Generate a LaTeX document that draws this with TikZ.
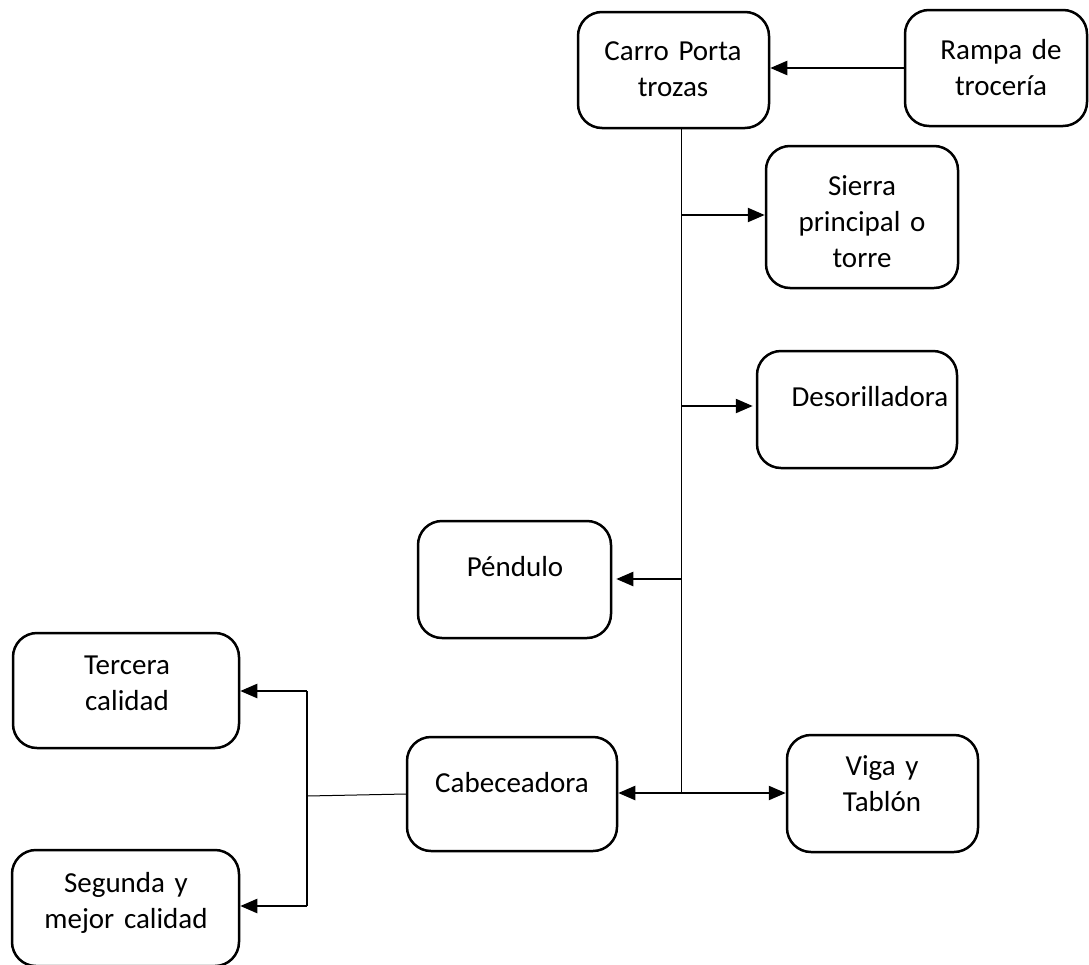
\documentclass[tikz,border=0pt]{standalone}
\usepackage{fontspec}
\setmainfont{Carlito}
\usetikzlibrary{arrows.meta}
\tikzset{
  box/.style={draw=black, line width=2.5pt, rounded corners=24pt, inner sep=0pt},
  txt/.style={font=\fontsize{29}{36}\selectfont, anchor=base, text width=260pt, align=center, inner sep=0pt},
  arr/.style={line width=2.3pt, -{Triangle[length=17pt,width=14pt]}},
  arrr/.style={line width=2.3pt, {Triangle[length=17pt,width=14pt]}-{Triangle[length=17pt,width=14pt]}},
  thin line/.style={line width=1pt},
}
\begin{document}
\begin{tikzpicture}[x=1pt,y=-1pt]
\useasboundingbox (0,0) rectangle (1089,964);
% boxes
\node[box, minimum width=191pt, minimum height=116pt] (carro) at (673.5,70) {};
\node[box, minimum width=182pt, minimum height=116pt] (rampa) at (996,68) {};
\node[box, minimum width=192pt, minimum height=142pt] (sierra) at (862,217) {};
\node[box, minimum width=200pt, minimum height=117pt] (deso) at (857,409.5) {};
\node[box, minimum width=193pt, minimum height=117pt] (pend) at (514.5,579.5) {};
\node[box, minimum width=210pt, minimum height=114pt] (cab) at (512,794) {};
\node[box, minimum width=191pt, minimum height=117pt] (viga) at (882.5,793.5) {};
\node[box, minimum width=226pt, minimum height=115pt] (terc) at (126,690.5) {};
\node[box, minimum width=227pt, minimum height=116pt] (seg) at (125.5,908) {};
% texts
\node[txt] (carroT) at (673,60) {Carro Porta\\trozas};
\node[txt] (rampaT) at (1001,59) {Rampa de\\trocería};
\node[txt] (sierraT) at (862,195) {Sierra\\principal o\\torre};
\node[txt] (desoT) at (870,406) {Desorilladora};
\node[txt] (pendT) at (515,576) {Péndulo};
\node[txt] (cabT) at (512,792) {Cabeceadora};
\node[txt] (vigaT) at (882,775) {Viga y\\Tablón};
\node[txt] (tercT) at (127,674) {Tercera\\calidad};
\node[txt] (segT) at (126,892) {Segunda y\\mejor calidad};
% trunk coordinates
\coordinate (ttop) at (681,128);
\coordinate (bS) at (681,215);
\coordinate (bD) at (681,406);
\coordinate (bP) at (681,579);
\coordinate (tbot) at (681,793);
\coordinate (jn) at (307,796);
\coordinate (jt) at (307,691);
\coordinate (jb) at (307,906);
% connectors
\draw[arr] (rampa.west) -- (rampa.west -| carro.east);
\draw[thin line] (ttop) -- (tbot);
\draw[arr] (bS) -- (bS -| sierra.west);
\draw[arr, shorten >=3pt] (bD) -- (bD -| deso.west);
\draw[arr, shorten >=4pt] (bP) -- (bP -| pend.east);
\draw[arrr] (tbot -| cab.east) -- (tbot -| viga.west);
\draw[thin line] (cab.west) -- (jn);
\draw[line width=1.5pt] (jt) -- (jb);
\draw[arr] (jt) -- (jt -| terc.east);
\draw[arr] (jb) -- (jb -| seg.east);
\end{tikzpicture}
\end{document}
